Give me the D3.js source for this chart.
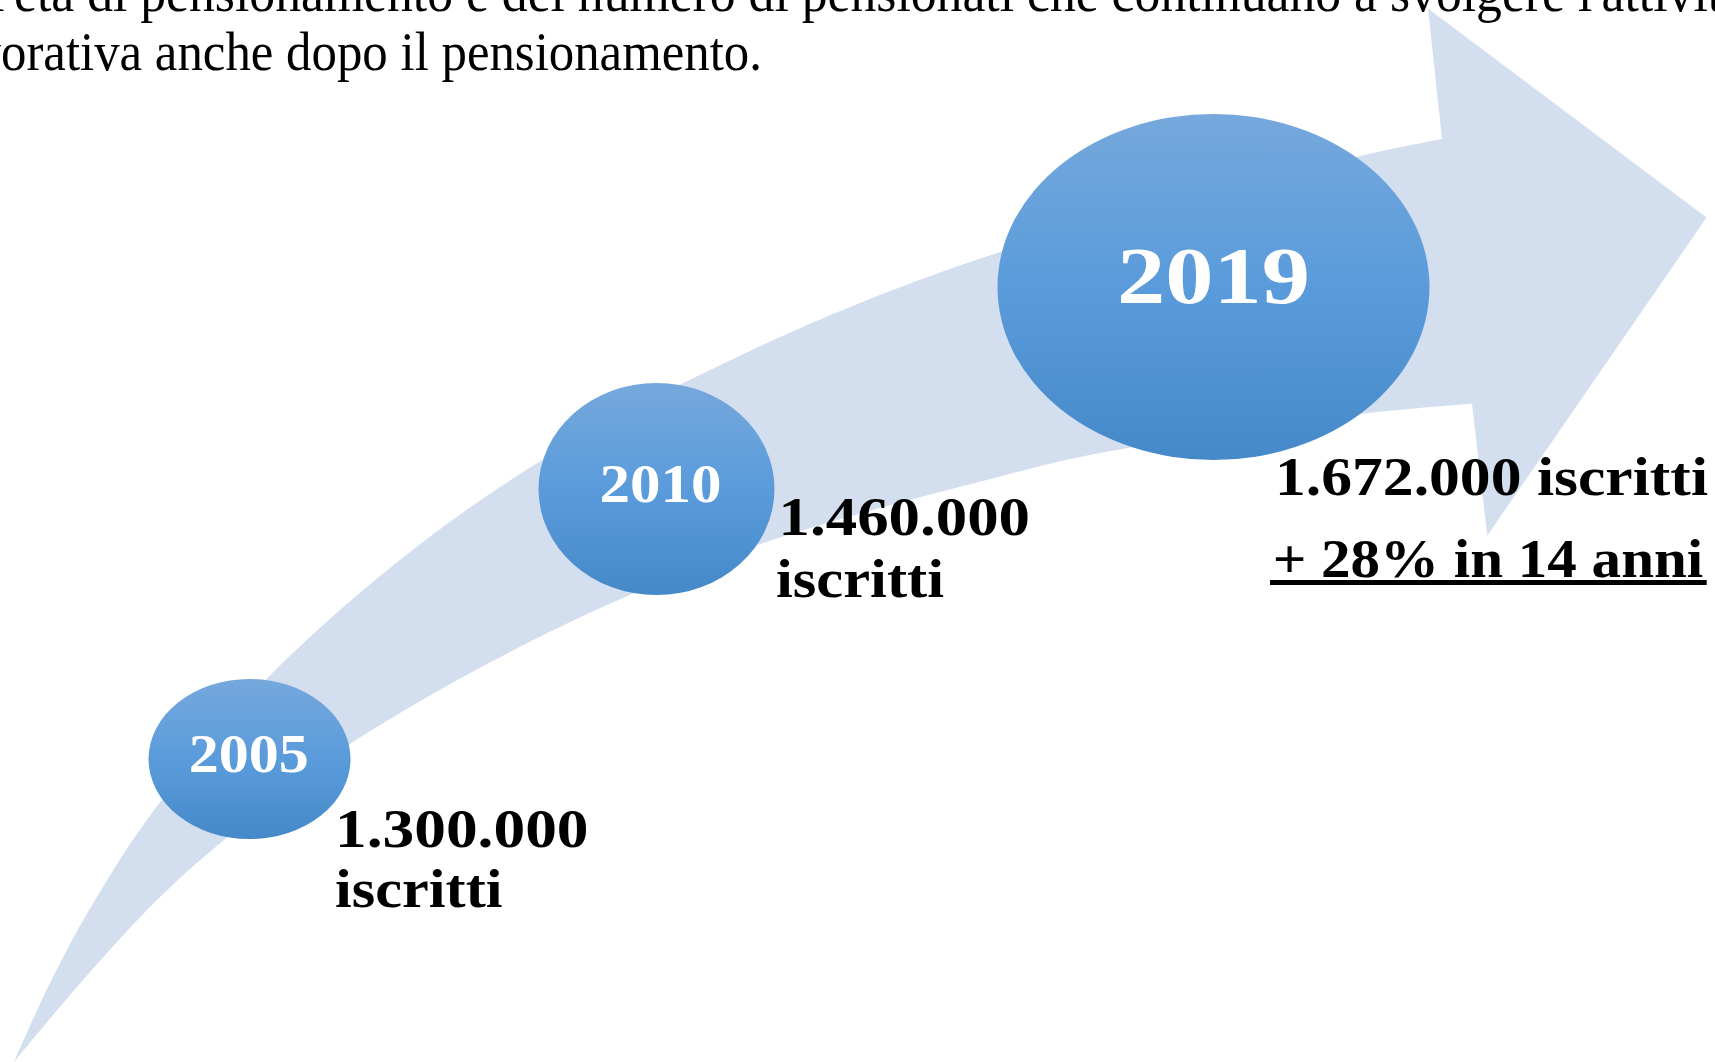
<!DOCTYPE html>
<meta charset="utf-8">
<body>
<script src="https://cdn.jsdelivr.net/npm/d3@7"></script>
<style>
    html, body {
        margin: 0;
        background: #fff;
    }
    svg { display: block; }
</style>
<script>
// data
var years = ["2005", "2010", "2019"],
    iscritti = [1300000, 1460000, 1672000],
    unit = "iscritti",
    growth = "+ 28% in 14 anni";

// paragraph text cut by the page edges: [hidden prefix, visible part up to the measure point, rest]
var intro = [
    ["dell'", "età di pensionamento e del numero di pensionati che continuano a svolgere", " l'attività"],
    ["lav", "orativa anche dopo il pensionamento.", ""]
];

// layout
var width = 1715,
    height = 1062,
    serif = "'Liberation Serif', 'Times New Roman', serif";

var introPos = [
    {x0: 14, x1: 1565, y: 11},
    {x0: 1, x1: 762, y: 70}
];

var bubbles = [
    {cx: 249.5, cy: 759, rx: 101, ry: 80, tx: 248.7, ty: 771.7, fs: 54, tw: 120},
    {cx: 656.5, cy: 489, rx: 118, ry: 106, tx: 660.4, ty: 501.7, fs: 54, tw: 122},
    {cx: 1213.5, cy: 287, rx: 216, ry: 173, tx: 1213.4, ty: 303.3, fs: 81, tw: 193}
];

var labelPos = [
    [{x: 335, y: 846.7, w: 253.5}, {x: 335, y: 906.7, w: 167.5}],
    [{x: 778.6, y: 535, w: 251.4}, {x: 776, y: 596.7, w: 168}],
    [{x: 1275, y: 495, w: 433}]
];
var growthPos = {x: 1272.7, y: 576.7, w: 430.5, ux0: 1270, ux1: 1706.7, uy: 580, uh: 5};

// arrow outline
var upperEdge = [[14, 1062], [50, 983], [95, 900], [161.7, 800], [296, 650], [500, 487],
                 [752, 350], [1000, 252], [1356, 157], [1442, 139]];
var head = [[1428, 8.5], [1706.5, 217.5], [1487.3, 535.5], [1472, 403.7]];
var lowerEdge = [[1472, 403.7], [1360, 414], [1100, 453], [1000, 476.5], [752.6, 546.7],
                 [553.6, 630], [350, 744], [224, 840], [157, 900], [83, 980], [14, 1062]];

var it = d3.formatLocale({decimal: ",", thousands: ".", grouping: [3], currency: ["€", ""]}),
    fmt = it.format(",d");

var svg = d3.select("body").append("svg")
    .attr("width", width)
    .attr("height", height);

var defs = svg.append("defs");
var grad = defs.append("linearGradient")
    .attr("id", "bubble")
    .attr("x1", 0).attr("y1", 0).attr("x2", 0).attr("y2", 1);
grad.append("stop").attr("offset", "0%").attr("stop-color", "#76a8dc");
grad.append("stop").attr("offset", "50%").attr("stop-color", "#5a9bdb");
grad.append("stop").attr("offset", "100%").attr("stop-color", "#4589c9");

// measuring helper
var probe = svg.append("text").attr("font-family", serif);
function measure(str, size, weight) {
    probe.attr("font-size", size).attr("font-weight", weight || "normal").text(str);
    return probe.node().getComputedTextLength();
}

// intro paragraph
intro.forEach(function(parts, i) {
    var p = introPos[i], fs = 54;
    var wPre = measure(parts[0], fs),
        wMid = measure(parts[1], fs),
        wAll = measure(parts.join(""), fs),
        s = (p.x1 - p.x0) / wMid;
    svg.append("text")
        .attr("x", p.x0 - wPre * s)
        .attr("y", p.y)
        .attr("font-family", serif)
        .attr("font-size", fs)
        .attr("fill", "#000")
        .attr("textLength", wAll * s)
        .attr("lengthAdjust", "spacingAndGlyphs")
        .text(parts.join(""));
});

// arrow
var edge = d3.line().curve(d3.curveCatmullRom.alpha(0.5));
var arrowPath = edge(upperEdge) +
    head.map(function(d) { return "L" + d[0] + "," + d[1]; }).join("") +
    edge(lowerEdge).replace(/^M/, "L") + "Z";

svg.append("path")
    .attr("d", arrowPath)
    .attr("fill", "#d3deef");

// bubbles
var b = svg.selectAll("g.bubble")
    .data(years)
    .enter().append("g")
    .attr("class", "bubble");

b.append("ellipse")
    .attr("cx", function(d, i) { return bubbles[i].cx; })
    .attr("cy", function(d, i) { return bubbles[i].cy; })
    .attr("rx", function(d, i) { return bubbles[i].rx; })
    .attr("ry", function(d, i) { return bubbles[i].ry; })
    .attr("fill", "url(#bubble)");

b.append("text")
    .attr("x", function(d, i) { return bubbles[i].tx - bubbles[i].tw / 2; })
    .attr("y", function(d, i) { return bubbles[i].ty; })
    .attr("font-family", serif)
    .attr("font-weight", "bold")
    .attr("font-size", function(d, i) { return bubbles[i].fs; })
    .attr("fill", "#fff")
    .attr("textLength", function(d, i) { return bubbles[i].tw; })
    .attr("lengthAdjust", "spacingAndGlyphs")
    .text(function(d) { return d; });

// value labels
iscritti.forEach(function(v, i) {
    var lines = labelPos[i].length > 1 ? [fmt(v), unit] : [fmt(v) + " " + unit];
    lines.forEach(function(str, j) {
        var p = labelPos[i][j];
        svg.append("text")
            .attr("x", p.x)
            .attr("y", p.y)
            .attr("font-family", serif)
            .attr("font-weight", "bold")
            .attr("font-size", 55)
            .attr("fill", "#000")
            .attr("textLength", p.w)
            .attr("lengthAdjust", "spacingAndGlyphs")
            .text(str);
    });
});

svg.append("text")
    .attr("x", growthPos.x)
    .attr("y", growthPos.y)
    .attr("font-family", serif)
    .attr("font-weight", "bold")
    .attr("font-size", 55)
    .attr("fill", "#000")
    .attr("textLength", growthPos.w)
    .attr("lengthAdjust", "spacingAndGlyphs")
    .text(growth);

svg.append("rect")
    .attr("x", growthPos.ux0)
    .attr("y", growthPos.uy)
    .attr("width", growthPos.ux1 - growthPos.ux0)
    .attr("height", growthPos.uh)
    .attr("fill", "#000");

probe.remove();
</script>
